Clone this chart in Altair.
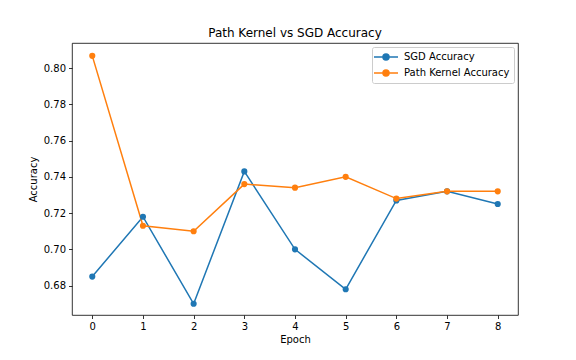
import altair as alt
import pandas as pd

epochs = [0, 1, 2, 3, 4, 5, 6, 7, 8]
sgd_acc = [0.685, 0.718, 0.670, 0.743, 0.700, 0.678, 0.727, 0.732, 0.725]
pk_acc = [0.8067, 0.713, 0.710, 0.736, 0.734, 0.740, 0.728, 0.732, 0.732]
series_names = ["SGD Accuracy", "Path Kernel Accuracy"]
series_colors = ["#1f77b4", "#ff7f0e"]
y_ticks = [0.68, 0.70, 0.72, 0.74, 0.76, 0.78, 0.80]

rows = []
for e, v in zip(epochs, sgd_acc):
    rows.append({"Epoch": e, "Accuracy": v, "Series": series_names[0]})
for e, v in zip(epochs, pk_acc):
    rows.append({"Epoch": e, "Accuracy": v, "Series": series_names[1]})
df = pd.DataFrame(rows)

FONT = "DejaVu Sans"

legend_path = "M-2.4,0L2.4,0M-0.6,0A0.6,0.6,0,1,1,0.6,0A0.6,0.6,0,1,1,-0.6,0Z"

chart = alt.Chart(df).mark_line(
    strokeWidth=1.5,
    point=alt.OverlayMarkDef(filled=True, size=38, opacity=1),
).encode(
    x=alt.X("Epoch:Q",
            scale=alt.Scale(domain=[-0.4, 8.4], nice=False, zero=False),
            axis=alt.Axis(values=epochs, format="d", title="Epoch")),
    y=alt.Y("Accuracy:Q",
            scale=alt.Scale(domain=[0.6638, 0.8138], nice=False, zero=False),
            axis=alt.Axis(values=y_ticks, format=".2f", title="Accuracy")),
    color=alt.Color("Series:N",
                    scale=alt.Scale(domain=series_names, range=series_colors),
                    sort=series_names,
                    legend=alt.Legend(
                        title=None,
                        orient="top-right",
                        offset=4,
                        symbolType=legend_path,
                        symbolSize=100,
                        symbolStrokeWidth=1.5,
                        symbolOffset=4,
                        labelOffset=12,
                        padding=4,
                        rowPadding=4,
                        strokeColor="#cccccc",
                        fillColor="white",
                        cornerRadius=2,
                        labelFont=FONT,
                        labelFontSize=10,
                        labelColor="black",
                    )),
    detail="Series:N",
).properties(
    width=446,
    height=272,
    title=alt.TitleParams("Path Kernel vs SGD Accuracy", font=FONT, fontSize=12,
                          fontWeight="normal", color="black", offset=3),
    autosize=alt.AutoSizeParams(type="none"),
    padding={"left": 64, "top": 35, "right": 50, "bottom": 37},
).configure_view(
    stroke="black", strokeWidth=0.8
).configure_axis(
    grid=False,
    domain=False,
    tickColor="black",
    tickWidth=0.8,
    tickSize=3.5,
    labelFont=FONT,
    labelFontSize=10,
    labelColor="black",
    labelPadding=3,
    titleFont=FONT,
    titleFontSize=10,
    titleFontWeight="normal",
    titleColor="black",
).configure_axisX(
    titlePadding=3,
).configure_axisY(
    titlePadding=5,
)

chart.save("out.html", embed_options={"renderer": "svg", "actions": False})
